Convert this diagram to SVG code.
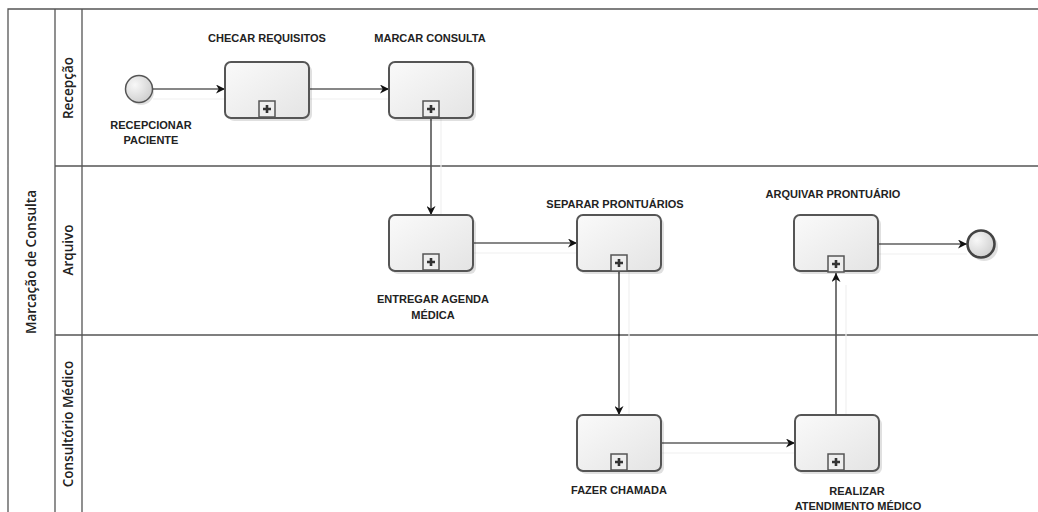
<svg xmlns="http://www.w3.org/2000/svg" width="1038" height="512" viewBox="0 0 1038 512">
<style>
.lane{fill:none;stroke:#555;stroke-width:1.3}
.task{fill:url(#tg);stroke:#555;stroke-width:2}
.shadow{fill:#000;opacity:0.12}
.mk{fill:#eee;stroke:#555;stroke-width:1.5}
.plus{stroke:#333;stroke-width:2.6}
.lbl{font-family:"Liberation Sans",Arial,sans-serif;font-weight:700;font-size:11px;fill:#222;text-anchor:middle}
.hdr{font-family:"Open Sans","Liberation Sans",sans-serif;font-weight:600;font-size:13.5px;fill:#222;text-anchor:middle}
.flow{fill:none;stroke:#111;stroke-width:1.2}
.ghost{fill:none;stroke:#f0f0f0;stroke-width:1.2}
</style>
<defs>
<linearGradient id="tg" x1="0" y1="0" x2="1" y2="1">
<stop offset="0" stop-color="#fafafa"/>
<stop offset="1" stop-color="#e4e4e4"/>
</linearGradient>
<radialGradient id="eg" cx="0.35" cy="0.35" r="0.7">
<stop offset="0" stop-color="#f8f8f8"/>
<stop offset="1" stop-color="#cfcfcf"/>
</radialGradient>
<marker id="ah" viewBox="0 0 10 10" refX="10" refY="5" markerWidth="9" markerHeight="9" markerUnits="userSpaceOnUse" orient="auto">
<path d="M0,0 L10,5 L0,10 L3,5 Z" fill="#111"/>
</marker>
</defs>
<rect width="1038" height="512" fill="#fff"/>
<g id="pool">
<path class="lane" d="M1038,9 H8 V512 M55,9 V512 M82,9 V512 M55,166 H1038 M55,335 H1038"/>
<text class="hdr" transform="translate(36,262) rotate(-90)">Marcação de Consulta</text>
<text class="hdr" transform="translate(73,88) rotate(-90)">Recepção</text>
<text class="hdr" transform="translate(73,250) rotate(-90)">Arquivo</text>
<text class="hdr" transform="translate(73,424) rotate(-90)">Consultório Médico</text>
</g>
<g id="connectors">
<path class="ghost" d="M153,99 H225 M309,99 H389 M441,118 V215 M473,253 H577 M629,272 V415 M661,453 H795 M846,415 V285 M878,254 H967"/>
<path class="flow" marker-end="url(#ah)" d="M153,89 H225"/>
<path class="flow" marker-end="url(#ah)" d="M309,89 H389"/>
<path class="flow" style="stroke:#555;stroke-width:1.6" marker-end="url(#ah)" d="M431,117 V215"/>
<path class="flow" marker-end="url(#ah)" d="M473,243 H577"/>
<path class="flow" marker-end="url(#ah)" d="M619,272 V415"/>
<path class="flow" marker-end="url(#ah)" d="M661,443 H795"/>
<path class="flow" style="stroke:#555;stroke-width:1.6" marker-end="url(#ah)" d="M836,415 V273"/>
<path class="flow" marker-end="url(#ah)" d="M878,244 H967"/>
</g>
<g id="start">
<circle cx="141" cy="92" r="13" class="shadow"/>
<circle cx="139" cy="89" r="13.5" fill="url(#eg)" stroke="#555" stroke-width="1.5"/>
<text class="lbl" x="151" y="129">RECEPCIONAR</text>
<text class="lbl" x="151" y="144">PACIENTE</text>
</g>
<g id="checar">
<rect x="228" y="65" width="84" height="56" rx="6" class="shadow"/>
<rect x="225" y="62" width="84" height="56" rx="6" class="task"/>
<rect x="259" y="101" width="16" height="16" class="mk"/>
<path class="plus" d="M263,109 H271 M267,105 V113"/>
<text class="lbl" x="267" y="42">CHECAR REQUISITOS</text>
</g>
<g id="marcar">
<rect x="392" y="65" width="84" height="56" rx="6" class="shadow"/>
<rect x="389" y="62" width="84" height="56" rx="6" class="task"/>
<rect x="423" y="101" width="16" height="16" class="mk"/>
<path class="plus" d="M427,109 H435 M431,105 V113"/>
<text class="lbl" x="430" y="42">MARCAR CONSULTA</text>
</g>
<g id="entregar">
<rect x="392" y="218" width="84" height="56" rx="6" class="shadow"/>
<rect x="389" y="215" width="84" height="56" rx="6" class="task"/>
<rect x="423" y="254" width="16" height="16" class="mk"/>
<path class="plus" d="M427,262 H435 M431,258 V266"/>
<text class="lbl" x="433" y="303">ENTREGAR AGENDA</text>
<text class="lbl" x="433" y="319">MÉDICA</text>
</g>
<g id="separar">
<rect x="580" y="218" width="84" height="56" rx="6" class="shadow"/>
<rect x="577" y="215" width="84" height="56" rx="6" class="task"/>
<rect x="611" y="255" width="16" height="16" class="mk"/>
<path class="plus" d="M615,263 H623 M619,259 V267"/>
<text class="lbl" x="615" y="208">SEPARAR PRONTUÁRIOS</text>
</g>
<g id="arquivar">
<rect x="797" y="218" width="84" height="56" rx="6" class="shadow"/>
<rect x="794" y="215" width="84" height="56" rx="6" class="task"/>
<rect x="828" y="256" width="16" height="16" class="mk"/>
<path class="plus" d="M832,264 H840 M836,260 V268"/>
<text class="lbl" x="833" y="198">ARQUIVAR PRONTUÁRIO</text>
</g>
<g id="end">
<circle cx="984" cy="247" r="14" class="shadow"/>
<circle cx="981" cy="244" r="13.5" fill="url(#eg)" stroke="#444" stroke-width="2.6"/>
</g>
<g id="fazer">
<rect x="580" y="418" width="84" height="56" rx="6" class="shadow"/>
<rect x="577" y="415" width="84" height="56" rx="6" class="task"/>
<rect x="611" y="454" width="16" height="16" class="mk"/>
<path class="plus" d="M615,462 H623 M619,458 V466"/>
<text class="lbl" x="619" y="494">FAZER CHAMADA</text>
</g>
<g id="realizar">
<rect x="798" y="418" width="84" height="56" rx="6" class="shadow"/>
<rect x="795" y="415" width="84" height="56" rx="6" class="task"/>
<rect x="828" y="454" width="16" height="16" class="mk"/>
<path class="plus" d="M832,462 H840 M836,458 V466"/>
<text class="lbl" x="857" y="495">REALIZAR</text>
<text class="lbl" x="858" y="510">ATENDIMENTO MÉDICO</text>
</g>
</svg>
